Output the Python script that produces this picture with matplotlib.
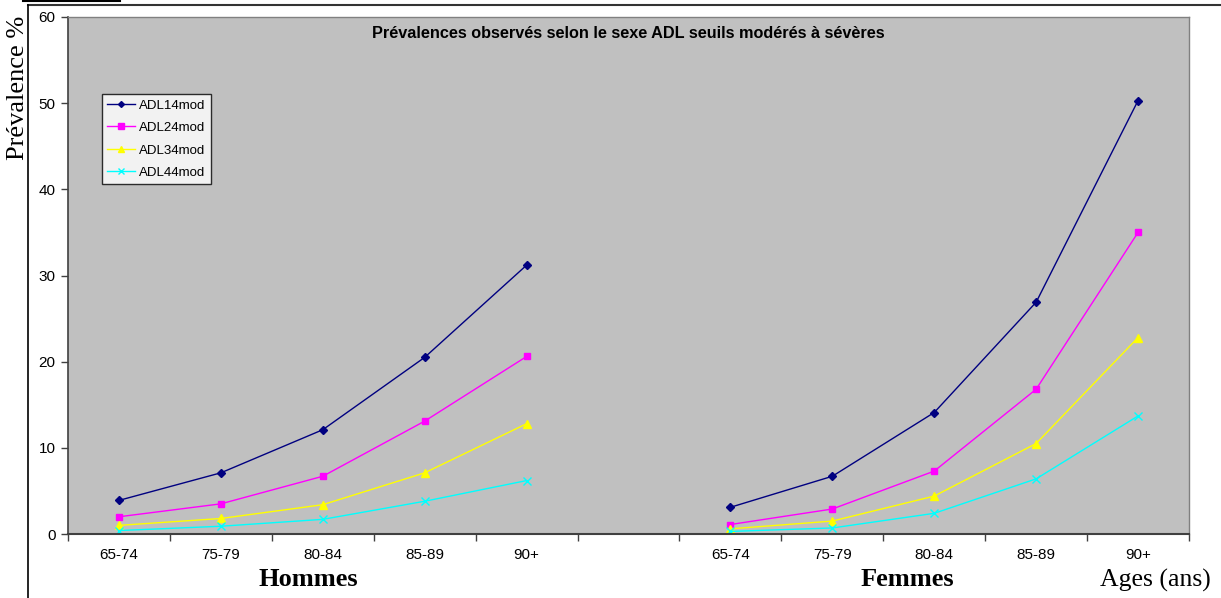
import matplotlib
matplotlib.use('Agg')
import matplotlib.pyplot as plt
import numpy as np
from matplotlib.lines import Line2D

# age groups, shown once for men and once for women
ages = ['65-74', '75-79', '80-84', '85-89', '90+']

# prevalence (%) per series : men then women
adl14_h = [3.9, 7.1, 12.1, 20.5, 31.2]
adl24_h = [2.0, 3.5, 6.7, 13.1, 20.6]
adl34_h = [1.0, 1.8, 3.4, 7.1, 12.8]
adl44_h = [0.4, 0.9, 1.7, 3.8, 6.2]

adl14_f = [3.1, 6.7, 14.1, 26.9, 50.3]
adl24_f = [1.1, 2.9, 7.3, 16.8, 35.0]
adl34_f = [0.6, 1.5, 4.4, 10.5, 22.8]
adl44_f = [0.3, 0.7, 2.4, 6.4, 13.7]

labels = ['ADL14mod', 'ADL24mod', 'ADL34mod', 'ADL44mod']
colors = ['#000080', '#FF00FF', '#FFFF00', '#00FFFF']
markers = ['D', 's', '^', 'x']
msizes = [4, 5, 6, 6]

series_h = [adl14_h, adl24_h, adl34_h, adl44_h]
series_f = [adl14_f, adl24_f, adl34_f, adl44_f]

sans = 'Liberation Sans'
serif = 'Liberation Serif'

fig = plt.figure(figsize=(12.21, 5.98), dpi=100)
W, H = 1221, 598
ax = fig.add_axes([68 / W, (H - 534) / H, (1189 - 68) / W, (534 - 17) / H])
ax.set_facecolor('#C0C0C0')

# 11 category slots : 5 for men, one empty, 5 for women
xh = np.arange(5)
xf = np.arange(6, 11)
for i in range(4):
    for xs, ys in ((xh, series_h[i]), (xf, series_f[i])):
        ax.plot(xs, ys, color=colors[i], lw=1.0, marker=markers[i], ms=msizes[i],
                mew=1.0, mec=colors[i], mfc=colors[i])

ax.set_xlim(-0.5, 10.5)
ax.set_ylim(0, 60)
ax.set_yticks(range(0, 61, 10))
ax.set_xticks(np.arange(-0.5, 11, 1))
ax.set_xticklabels([])
ax.set_xticks(list(xh) + list(xf), minor=True)
ax.set_xticklabels(ages + ages, minor=True, fontsize=11, fontfamily=sans)
ax.tick_params(axis='x', which='minor', length=0, pad=10)
ax.tick_params(axis='x', which='major', length=5, width=1, color='#404040')
ax.tick_params(axis='y', length=5, width=1, color='#404040', labelsize=11, pad=4)
for t in ax.get_yticklabels():
    t.set_fontfamily(sans)

for side in ['top', 'right']:
    ax.spines[side].set_color('#808080')
    ax.spines[side].set_linewidth(1)
ax.spines['left'].set_color('#404040')
ax.spines['bottom'].set_color('#404040')
ax.spines['left'].set_linewidth(1.2)
ax.spines['bottom'].set_linewidth(1.5)

ax.text(0.5, 0.969, 'Prévalences observés selon le sexe ADL seuils modérés à sévères',
        transform=ax.transAxes, ha='center', va='center', fontsize=11.7,
        fontweight='bold', fontfamily=sans)

handles = [Line2D([0], [0], color=colors[i], marker=markers[i], ms=msizes[i] - 1,
                  mfc=colors[i], mec=colors[i], lw=1.0) for i in range(4)]
leg = ax.legend(handles, labels, loc='upper left', bbox_to_anchor=(34 / 1121, 1 - 77 / 517),
                frameon=True, fancybox=False, prop={'family': sans, 'size': 9.5},
                handlelength=2.1, handletextpad=0.3, labelspacing=0.78,
                borderpad=0.4, borderaxespad=0)
leg.get_frame().set_edgecolor('black')
leg.get_frame().set_linewidth(1)
leg.get_frame().set_facecolor('white')

fig.text(18 / W, 1 - 88 / H, 'Prévalence %', rotation=90, ha='center', va='center',
         fontsize=19, fontfamily=serif)
fig.text(308 / W, 1 - 580 / H, 'Hommes', ha='center', va='center',
         fontsize=19, fontweight='bold', fontfamily=serif)
fig.text(907 / W, 1 - 580 / H, 'Femmes', ha='center', va='center',
         fontsize=19, fontweight='bold', fontfamily=serif)
fig.text(1155 / W, 1 - 580 / H, 'Ages (ans)', ha='center', va='center',
         fontsize=18.5, fontfamily=serif)

# surrounding page rules
fig.add_artist(Line2D([28 / W, 1.0], [1 - 5 / H, 1 - 5 / H], color='#333333', lw=1.5))
fig.add_artist(Line2D([28 / W, 28 / W], [0, 1 - 5 / H], color='black', lw=1.2))
fig.add_artist(Line2D([23 / W, 120 / W], [1 - 1 / H, 1 - 1 / H], color='black', lw=1.5))

fig.savefig('out.png', dpi=100)
